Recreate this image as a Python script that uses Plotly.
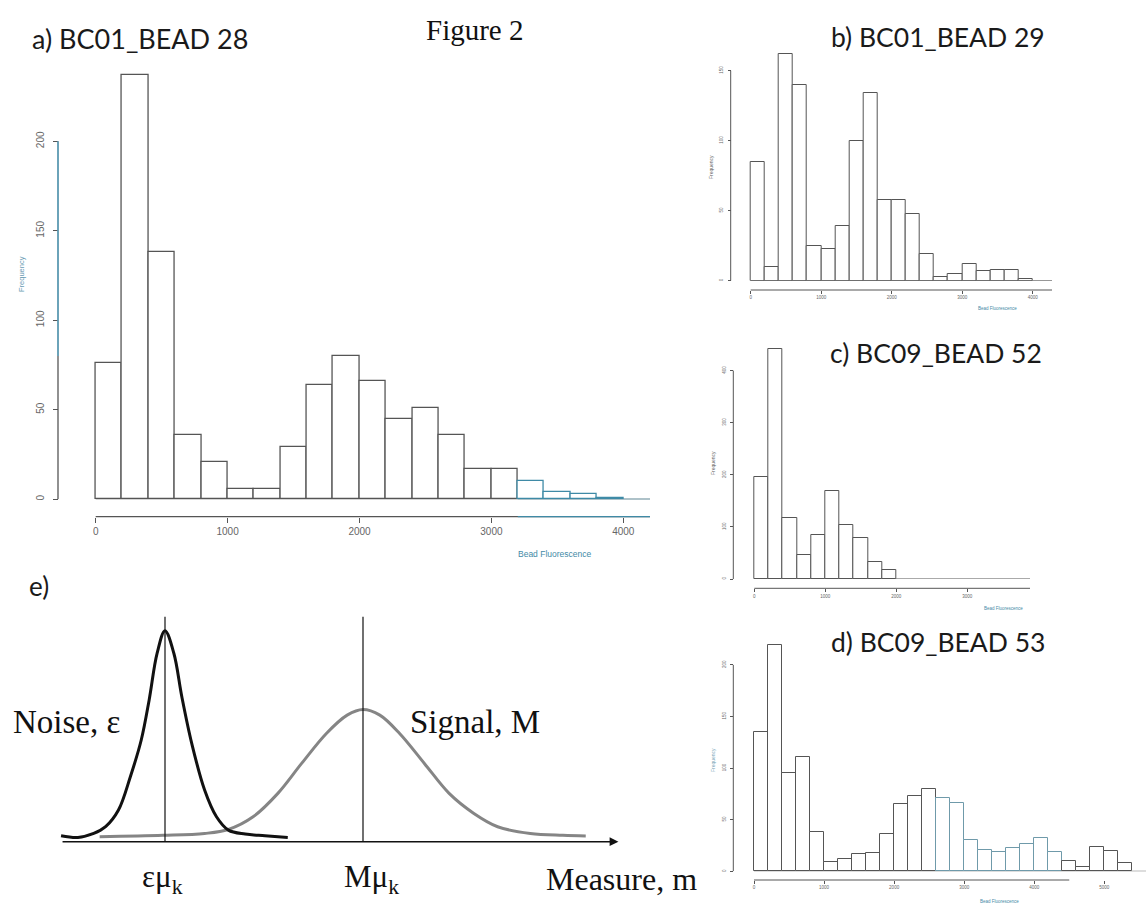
import plotly.graph_objects as go

W, H = 1148, 904

# ---------------- data ----------------
BIN_WIDTH = 200

# a) BC01_BEAD 28
counts_a = [76, 237, 138, 36, 21, 6, 6, 29, 64, 80, 66, 45, 51, 36, 17, 17, 10, 4, 3, 1]
xticks_a = [0, 1000, 2000, 3000, 4000]
yticks_a = [0, 50, 100, 150, 200]

# b) BC01_BEAD 29
counts_b = [85, 10, 162, 140, 25, 23, 39, 100, 134, 58, 58, 48, 19, 3, 5, 12, 7, 8, 8, 1]
xticks_b = [0, 1000, 2000, 3000, 4000]
yticks_b = [0, 50, 100, 150]

# c) BC09_BEAD 52
counts_c = [195, 442, 117, 47, 85, 169, 103, 79, 32, 18]
xticks_c = [0, 1000, 2000, 3000]
yticks_c = [0, 100, 200, 300, 400]

# d) BC09_BEAD 53
counts_d = [135, 219, 95, 111, 38, 9, 12, 17, 18, 36, 65, 73, 80, 71, 66, 30, 21, 19,
            23, 26, 32, 19, 10, 4, 24, 20, 8]
xticks_d = [0, 1000, 2000, 3000, 4000, 5000]
yticks_d = [0, 50, 100, 150, 200]

# e) noise / signal densities along the measure axis
noise_m = [-0.05, 0.12, 0.28, 0.40, 0.53, 0.65, 0.76, 0.84, 0.92, 1.00, 1.09, 1.17, 1.27,
           1.40, 1.52, 1.64, 1.81, 2.01, 2.24]
noise_d = [0.028, 0.020, 0.039, 0.071, 0.150, 0.308, 0.482, 0.672, 0.892, 1.000, 0.892,
           0.687, 0.466, 0.245, 0.118, 0.055, 0.036, 0.028, 0.020]
signal_m = [0.34, 0.98, 1.40, 1.64, 1.89, 2.14, 2.38, 2.63, 2.84, 3.00, 3.17, 3.37, 3.62,
            3.87, 4.12, 4.36, 4.69, 5.02, 5.25]
signal_d = [0.024, 0.030, 0.039, 0.058, 0.118, 0.229, 0.371, 0.513, 0.600, 0.627, 0.600,
            0.513, 0.371, 0.229, 0.134, 0.071, 0.039, 0.030, 0.027]
means_e = [1.0, 3.0]
mean_labels_e = ["εμ<sub>k</sub>", "Mμ<sub>k</sub>"]

# ---------------- helpers ----------------
def fx(px):
    return px / W


def fy(py):
    return 1 - py / H


AX_COL = "#555555"
TEAL = "#3f8aa6"
SANS = "Liberation Sans, Arial, sans-serif"
SERIF = "Liberation Serif, Times New Roman, serif"
TITLE_FONT = "Lato, Open Sans, sans-serif"
LEFT_PAD = 4  # px of room left of the first bin so its outline is not clipped

fig = go.Figure()
shapes = []
annotations = []
layout_axes = {}


def hist_panel(n, counts, xpx, xppu, ypx, yppu, yline_px, xline_py, xticks, yticks,
               xline_end, tick_size, ticklen, lw, ylab_standoff, bar_colors=None):
    """Draw an R-style histogram in a panel placed by pixel geometry."""
    xs = "" if n == 1 else str(n)
    xref, yref = "x" + xs, "y" + xs
    x_lo = -LEFT_PAD / xppu
    xr = (xpx[1] - xpx[0]) / xppu
    yr = (ypx[0] - ypx[1]) / yppu
    centers = [BIN_WIDTH * i + BIN_WIDTH / 2 for i in range(len(counts))]
    fig.add_trace(go.Bar(
        x=centers, y=counts, width=BIN_WIDTH, xaxis=xref, yaxis=yref,
        marker=dict(color="white",
                    line=dict(color=bar_colors if bar_colors else AX_COL, width=lw)),
        showlegend=False, hoverinfo="x+y"))
    tf = dict(family=SANS, size=tick_size, color="#666666")
    layout_axes["xaxis" + xs] = dict(
        domain=[fx(xpx[0] - LEFT_PAD), fx(xpx[1])], range=[x_lo, xr], anchor="free",
        position=fy(xline_py), showline=False, showgrid=False, zeroline=False,
        ticks="outside", ticklen=ticklen, tickwidth=lw, tickcolor=AX_COL,
        tickvals=xticks, ticktext=[str(t) for t in xticks], tickfont=tf)
    layout_axes["yaxis" + xs] = dict(
        domain=[fy(ypx[0]), fy(ypx[1])], range=[0, yr], anchor="free",
        position=fx(yline_px), showline=False, showgrid=False, zeroline=False,
        ticks="outside", ticklen=ticklen, tickwidth=lw, tickcolor=AX_COL,
        tickvals=yticks, ticktext=[str(t) for t in yticks], tickfont=tf,
        tickangle=-90, ticklabelstandoff=ylab_standoff)
    # y axis line spans first..last tick
    shapes.append(dict(type="line", xref="paper", yref=yref, x0=fx(yline_px),
                       x1=fx(yline_px), y0=yticks[0], y1=yticks[-1],
                       line=dict(color=AX_COL, width=lw)))
    # detached x axis line
    shapes.append(dict(type="line", xref=xref, yref="paper", x0=0, x1=xline_end,
                       y0=fy(xline_py), y1=fy(xline_py),
                       line=dict(color=AX_COL, width=lw)))
    # baseline under the bars
    shapes.append(dict(type="line", xref=xref, yref=yref, x0=0, x1=xr, y0=0, y1=0,
                       line=dict(color=AX_COL, width=lw), layer="below"))
    return xref, yref, xr


def label(text, px, py, size, color="#222222", family=SANS, angle=0, xanchor="center"):
    annotations.append(dict(text=text, x=fx(px), y=fy(py), xref="paper", yref="paper",
                            showarrow=False, xanchor=xanchor, yanchor="middle",
                            textangle=angle, font=dict(family=family, size=size,
                                                       color=color)))


# ---------------- panel a ----------------
tint_a = [TEAL if BIN_WIDTH * i >= 3200 else AX_COL for i in range(len(counts_a))]
xa, ya, xr_a = hist_panel(1, counts_a, (95.7, 650), 0.1319, (499.3, 60), 1.79, 58, 516.7,
                          xticks_a, yticks_a, 4202, 10, 5, 1.3, 5, bar_colors=tint_a)
# tinted upper part of the frequency axis and right end of the fluorescence axis
shapes.append(dict(type="line", xref="paper", yref=ya, x0=fx(58), x1=fx(58), y0=80, y1=200,
                   line=dict(color="#58aed0", width=1.3)))
shapes.append(dict(type="line", xref=xa, yref="paper", x0=3200, x1=xr_a,
                   y0=fy(516.7), y1=fy(516.7), line=dict(color=TEAL, width=1.3)))
shapes.append(dict(type="line", xref=xa, yref=ya, x0=3200, x1=xr_a, y0=0, y1=0,
                   line=dict(color=TEAL, width=1.3)))
label("Frequency", 21, 274, 7.5, color="#6a9cb4", angle=-90)
label("Bead Fluorescence", 555, 554, 8.5, color=TEAL)

# ---------------- panel b ----------------
hist_panel(2, counts_b, (750.7, 1052), 0.0705, (280.7, 50), 1.4, 730.7, 290,
           xticks_b, yticks_b, 4274, 4.5, 3, 1.0, 3)
label("Frequency", 711, 167, 5, color="#666666", angle=-90)
label("Bead Fluorescence", 997, 308, 4.5, color=TEAL)

# ---------------- panel c ----------------
hist_panel(3, counts_c, (754.3, 1030), 0.071, (579, 345), 0.521, 733.3, 588.3,
           xticks_c, yticks_c, 3883, 4.5, 3, 1.0, 3)
label("Frequency", 713, 463, 5, color="#666666", angle=-90)
label("Bead Fluorescence", 1003, 608, 4.5, color=TEAL)

# ---------------- panel d ----------------
tint_d = ["#6f9aaa" if 2600 <= BIN_WIDTH * i < 4400 else AX_COL for i in range(len(counts_d))]
hist_panel(4, counts_d, (754, 1146), 0.07006, (871.3, 640), 1.032, 733.3, 880,
           xticks_d, yticks_d, 4500, 4.5, 3, 1.0, 3, bar_colors=tint_d)
label("Frequency", 713, 760, 5, color="#7aa6b8", angle=-90)
label("Bead Fluorescence", 999, 901, 4.5, color=TEAL)

# ---------------- panel e ----------------
fig.add_trace(go.Scatter(x=signal_m, y=signal_d, mode="lines", xaxis="x5", yaxis="y5",
                         line=dict(color="#858585", width=3, shape="spline", smoothing=1),
                         showlegend=False))
fig.add_trace(go.Scatter(x=noise_m, y=noise_d, mode="lines", xaxis="x5", yaxis="y5",
                         line=dict(color="#111111", width=3, shape="spline", smoothing=1),
                         showlegend=False))
MEAN_LINE_TOP = 1.066
for m in means_e:
    fig.add_trace(go.Scatter(x=[m, m], y=[0, MEAN_LINE_TOP], mode="lines", xaxis="x5",
                             yaxis="y5", line=dict(color="#111111", width=1.2),
                             showlegend=False, hoverinfo="skip"))
E_PPU_X, E_ORIGIN_X = 99, 66
E_PPU_Y, E_ORIGIN_Y = 211, 841.7
layout_axes["xaxis5"] = dict(domain=[fx(40), fx(640)],
                             range=[(40 - E_ORIGIN_X) / E_PPU_X, (640 - E_ORIGIN_X) / E_PPU_X],
                             anchor="y5", visible=False)
layout_axes["yaxis5"] = dict(domain=[fy(860), fy(600)],
                             range=[(E_ORIGIN_Y - 860) / E_PPU_Y, (E_ORIGIN_Y - 600) / E_PPU_Y],
                             anchor="x5", visible=False)
# measure axis with arrow
annotations.append(dict(x=5.58, y=0, ax=-0.05, ay=0, xref="x5", yref="y5", axref="x5",
                        ayref="y5", text="", showarrow=True, arrowhead=2, arrowsize=1.1,
                        arrowwidth=1.6, arrowcolor="#111111"))
for m, t, shift in zip(means_e, mean_labels_e, [-3, 8]):
    annotations.append(dict(x=m, y=fy(879), xref="x5", yref="paper", text=t, showarrow=False,
                            xshift=shift, yanchor="middle",
                            font=dict(family=SERIF, size=31, color="#111111")))
label("Noise, ε", 66, 722, 33, color="#111111", family=SERIF)
label("Signal, M", 475, 722, 33, color="#111111", family=SERIF)
label("Measure, m", 544, 879, 32, color="#111111", family=SERIF, xanchor="left")

# ---------------- titles ----------------
label("Figure 2", 474, 30, 29, color="#111111", family=SERIF)
label("a) BC01_BEAD 28", 30, 38, 27, color="#1a1a1a", family=TITLE_FONT, xanchor="left")
label("b) BC01_BEAD 29", 829, 37, 26.5, color="#1a1a1a", family=TITLE_FONT, xanchor="left")
label("c) BC09_BEAD 52", 828, 353, 26.5, color="#1a1a1a", family=TITLE_FONT, xanchor="left")
label("d) BC09_BEAD 53", 829, 642, 26.5, color="#1a1a1a", family=TITLE_FONT, xanchor="left")
label("e)", 27, 586, 26, color="#1a1a1a", family=TITLE_FONT, xanchor="left")

fig.update_layout(width=W, height=H, margin=dict(l=0, r=0, t=0, b=0),
                  paper_bgcolor="white", plot_bgcolor="rgba(0,0,0,0)",
                  shapes=shapes, annotations=annotations, bargap=0, **layout_axes)

fig.write_html("out.html")
